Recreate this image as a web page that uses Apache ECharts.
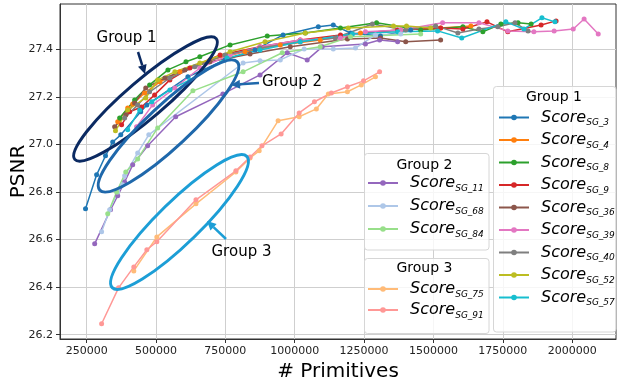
<!DOCTYPE html>
<html><head><meta charset="utf-8">
<script src="https://cdn.jsdelivr.net/npm/echarts@6/dist/echarts.min.js"></script>
<style>html,body{margin:0;padding:0;background:#fff}#c{width:621px;height:383px}</style>
</head><body><div id="c"></div>
<script>
// Tick values
const xTicks = [250000, 500000, 750000, 1000000, 1250000, 1500000, 1750000, 2000000];
const yTicks = [26.2, 26.4, 26.6, 26.8, 27.0, 27.2, 27.4];

// Group 1
const primSG3 = [246000,286000,318000,344000,373000,445000,467000,615000,749000,857000,958000,1085000,1139000,1201000,1309000,1418000];
const psnrSG3 = [26.729,26.872,26.952,27.010,27.040,27.137,27.166,27.284,27.355,27.397,27.460,27.494,27.502,27.468,27.456,27.481];
const primSG4 = [362000,398000,416000,459000,514000,586000,694000,821000,948000,1092000,1237000,1382000,1526000,1635000];
const psnrSG4 = [27.095,27.153,27.170,27.216,27.263,27.305,27.355,27.389,27.418,27.439,27.468,27.481,27.489,27.498];
const primSG8 = [369000,423000,477000,543000,608000,658000,767000,901000,1038000,1165000,1295000,1454000,1606000,1678000,1743000,1805000,1852000];
const psnrSG8 = [27.111,27.187,27.250,27.313,27.347,27.368,27.418,27.456,27.468,27.489,27.511,27.481,27.494,27.473,27.506,27.511,27.506];
const primSG9 = [376000,405000,448000,495000,550000,622000,731000,875000,1020000,1165000,1371000,1526000,1606000,1693000,1768000,1888000,1942000];
const psnrSG9 = [27.082,27.137,27.157,27.208,27.271,27.321,27.376,27.410,27.439,27.460,27.481,27.489,27.485,27.515,27.473,27.502,27.519];
const primSG36 = [351000,391000,423000,463000,532000,604000,694000,839000,984000,1190000,1309000,1400000,1526000];
const psnrSG36 = [27.074,27.124,27.174,27.237,27.279,27.313,27.347,27.380,27.410,27.443,27.447,27.431,27.439];
const primSG39 = [430000,488000,568000,658000,767000,875000,1020000,1165000,1255000,1382000,1533000,1664000,1768000,1862000,1935000,2004000,2043000,2094000];
const psnrSG39 = [27.074,27.166,27.237,27.321,27.376,27.410,27.439,27.447,27.473,27.481,27.511,27.511,27.477,27.473,27.477,27.485,27.527,27.464];
const primSG40 = [387000,434000,477000,550000,640000,749000,875000,1020000,1146000,1280000,1400000,1508000,1588000,1664000,1732000,1794000,1841000];
const psnrSG40 = [27.111,27.166,27.221,27.279,27.326,27.376,27.405,27.431,27.447,27.506,27.481,27.498,27.468,27.485,27.494,27.511,27.477];
const primSG52 = [354000,398000,463000,506000,568000,658000,767000,893000,1038000,1193000,1356000,1403000,1490000];
const psnrSG52 = [27.057,27.145,27.195,27.271,27.305,27.342,27.389,27.431,27.468,27.489,27.498,27.498,27.489];
const primSG57 = [398000,441000,485000,550000,622000,756000,875000,1020000,1208000,1371000,1515000,1602000,1761000,1826000,1891000,1938000];
const psnrSG57 = [27.061,27.145,27.179,27.229,27.271,27.363,27.397,27.431,27.464,27.473,27.477,27.447,27.515,27.485,27.532,27.515];

// Group 2
const primSG11 = [279000,336000,362000,387000,416000,470000,571000,741000,875000,973000,1045000,1099000,1255000,1306000,1371000];
const psnrSG11 = [26.582,26.725,26.784,26.842,26.914,26.994,27.116,27.212,27.292,27.385,27.355,27.410,27.422,27.439,27.431];
const primSG68 = [304000,333000,362000,380000,387000,434000,474000,814000,875000,948000,1034000,1139000,1219000,1291000,1382000];
const psnrSG68 = [26.633,26.725,26.800,26.830,26.868,26.964,27.040,27.342,27.351,27.355,27.401,27.401,27.405,27.460,27.464];
const primSG84 = [326000,358000,391000,434000,506000,633000,814000,955000,1092000,1201000,1454000];
const psnrSG84 = [26.708,26.800,26.884,26.939,27.069,27.225,27.305,27.385,27.410,27.452,27.464];

// Group 3
const primSG75 = [420000,503000,644000,788000,839000,872000,940000,1016000,1078000,1121000,1190000,1240000,1291000];
const psnrSG75 = [26.468,26.611,26.750,26.884,26.943,26.973,27.099,27.116,27.149,27.212,27.221,27.250,27.284];
const primSG91 = [304000,365000,420000,467000,503000,644000,788000,839000,882000,951000,1016000,1071000,1132000,1190000,1248000,1306000];
const psnrSG91 = [26.246,26.397,26.485,26.557,26.591,26.767,26.889,26.947,26.994,27.044,27.132,27.179,27.216,27.242,27.267,27.305];

const group1 = ['SG_3','SG_4','SG_8','SG_9','SG_36','SG_39','SG_40','SG_52','SG_57'];
const group2 = ['SG_11','SG_68','SG_84'];
const group3 = ['SG_75','SG_91'];

const seriesDefs = [
  ['SG_3', primSG3, psnrSG3, '#1f77b4'],
  ['SG_4', primSG4, psnrSG4, '#ff7f0e'],
  ['SG_8', primSG8, psnrSG8, '#2ca02c'],
  ['SG_9', primSG9, psnrSG9, '#d62728'],
  ['SG_36', primSG36, psnrSG36, '#8c564b'],
  ['SG_39', primSG39, psnrSG39, '#e377c2'],
  ['SG_40', primSG40, psnrSG40, '#7f7f7f'],
  ['SG_52', primSG52, psnrSG52, '#bcbd22'],
  ['SG_57', primSG57, psnrSG57, '#17becf'],
  ['SG_11', primSG11, psnrSG11, '#9467bd'],
  ['SG_68', primSG68, psnrSG68, '#aec7e8'],
  ['SG_84', primSG84, psnrSG84, '#98df8a'],
  ['SG_75', primSG75, psnrSG75, '#ffbb78'],
  ['SG_91', primSG91, psnrSG91, '#ff9896']
];

const FONT = 'DejaVu Sans';

const series = seriesDefs.map(([name, xs, ys, color]) => ({
  name, type: 'line',
  data: xs.map((x, i) => [x, ys[i]]),
  symbol: 'circle', symbolSize: 5,
  lineStyle: { width: 1.5, color },
  itemStyle: { color },
  emphasis: { disabled: true },
  z: 2
}));

const legendRich = {
  i: { fontFamily: FONT, fontStyle: 'italic', fontSize: 16, lineHeight: 20, color: '#000', padding: [0, 0, 0, 7] },
  s: { fontFamily: FONT, fontStyle: 'italic', fontSize: 9, lineHeight: 9, color: '#000', verticalAlign: 'bottom' }
};
function makeLegend(names, left, top, gap) {
  return {
    data: names, orient: 'vertical', left, top, padding: 0,
    itemWidth: 30, itemHeight: 7, itemGap: gap, selectedMode: false, z: 6,
    formatter: n => '{i|Score}{s|' + n + '}',
    textStyle: { rich: legendRich }
  };
}

// annotation helpers (pixel space)
function ellipse(cx, cy, rx, ry, deg, color) {
  return { type: 'ellipse', x: cx, y: cy, rotation: deg * Math.PI / 180,
    shape: { cx: 0, cy: 0, rx, ry }, style: { fill: null, stroke: color, lineWidth: 3 }, z: 10, silent: true };
}
function arrow(x1, y1, x2, y2, color) {
  const a = Math.atan2(y2 - y1, x2 - x1), L = 9, W = 4.5;
  const bx = x2 - L * Math.cos(a), by = y2 - L * Math.sin(a);
  return [
    { type: 'line', shape: { x1, y1, x2: bx, y2: by }, style: { stroke: color, lineWidth: 2.5 }, z: 10, silent: true },
    { type: 'polygon', shape: { points: [[x2, y2], [bx - W * Math.sin(a), by + W * Math.cos(a)], [bx + W * Math.sin(a), by - W * Math.cos(a)]] },
      style: { fill: color }, z: 10, silent: true }
  ];
}
function label(text, x, y, align, size, rot) {
  return { type: 'text', x, y, rotation: rot || 0,
    style: { text, fill: '#000', font: size + 'px "' + FONT + '"', textAlign: align, textVerticalAlign: 'middle' }, z: 11, silent: true };
}
function box(x, y, w, h) {
  return { type: 'rect', shape: { x, y, width: w, height: h, r: 3 },
    style: { fill: 'rgba(255,255,255,0.8)', stroke: '#d6d6d6', lineWidth: 1 }, z: 5, silent: true };
}

const C1 = '#0b2a62', C2 = '#1f68ab', C3 = '#1c9ed6';

const graphics = [
  ellipse(145.5, 99, 93, 19, 40.5, C1),
  ellipse(168.5, 126, 94, 21, 43, C2),
  ellipse(179.5, 222, 94, 21, 44.3, C3),
  ...arrow(138, 52, 145, 74, C1),
  ...arrow(259, 83, 231, 85, C2),
  ...arrow(226, 239, 207, 221, C3),
  label('Group 1', 126.5, 38.5, 'center', 15),
  label('Group 2', 262, 82.5, 'left', 15),
  label('Group 3', 211.5, 252, 'left', 15),
  box(493.5, 86.5, 122.5, 245.5),
  box(364.5, 153.5, 124.5, 96.5),
  box(364.5, 258.5, 124.5, 75),
  label('Group 1', 554, 97.5, 'center', 14),
  label('Group 2', 424.5, 165, 'center', 14),
  label('Group 3', 424.5, 268.5, 'center', 14),
  // y-axis title
  label('PSNR', 19, 171.5, 'center', 20, Math.PI / 2)
];

const chart = echarts.init(document.getElementById('c'), null, { renderer: 'canvas' });
chart.setOption({
  animation: false,
  backgroundColor: '#fff',
  textStyle: { fontFamily: FONT },
  grid: { left: 60, right: 5, top: 4, bottom: 44, show: true, borderColor: '#333', borderWidth: 1,
    containLabel: false, outerBoundsMode: 'none' },
  xAxis: {
    type: 'value', min: 154000, max: 2158000,
    name: '# Primitives', nameLocation: 'middle', nameGap: 21,
    nameTextStyle: { fontFamily: FONT, fontSize: 20, color: '#000' },
    axisLine: { show: true, lineStyle: { color: '#333', width: 1 } },
    axisTick: { show: true, inside: false, length: 4, lineStyle: { color: '#333' }, customValues: xTicks },
    axisLabel: { fontFamily: FONT, fontSize: 11, color: '#222', margin: 7, customValues: xTicks, formatter: v => String(v) },
    splitLine: { show: true, lineStyle: { color: '#cfcfcf', width: 1 } }
  },
  yAxis: {
    type: 'value', min: 26.182, max: 27.590,
    axisLine: { show: true, lineStyle: { color: '#333', width: 1 } },
    axisTick: { show: true, inside: false, length: 4, lineStyle: { color: '#333' }, customValues: yTicks },
    axisLabel: { fontFamily: FONT, fontSize: 11, color: '#222', margin: 7, customValues: yTicks, formatter: v => v.toFixed(1) },
    splitLine: { show: true, lineStyle: { color: '#cfcfcf', width: 1 } }
  },
  legend: [
    makeLegend(group1, 498, 109.5, 4.5),
    makeLegend(group2, 367, 175, 5),
    makeLegend(group3, 367, 281, 3)
  ],
  graphic: { elements: graphics },
  series
});
</script>
</body></html>
